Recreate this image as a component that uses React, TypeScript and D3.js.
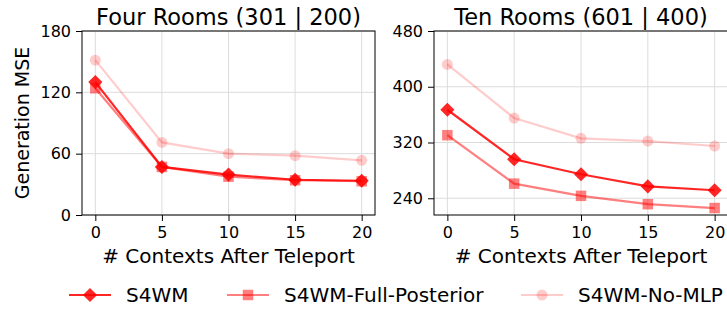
import React, { useRef, useEffect } from 'react'
import * as d3 from 'd3'

const contexts = [0, 5, 10, 15, 20]

// Four Rooms (301 | 200)
const fourS4wm = [130, 47, 39.5, 34.5, 33.5]
const fourFull = [124, 47, 37.5, 34, 33]
const fourNoMlp = [151.5, 71, 60, 58, 53.5]

// Ten Rooms (601 | 400)
const tenS4wm = [367, 296, 274.5, 257, 251.5]
const tenFull = [330.5, 261, 243.5, 231.5, 226]
const tenNoMlp = [432, 355, 326, 322, 315]

const fourTicks = [0, 60, 120, 180]
const tenTicks = [240, 320, 400, 480]

const seriesNames = ['S4WM', 'S4WM-Full-Posterior', 'S4WM-No-MLP']
const seriesAlpha = [0.85, 0.5, 0.2]
const seriesMarker = ['diamond', 'square', 'circle']

const panels = [
  { title: 'Four Rooms (301 | 200)', data: [fourS4wm, fourFull, fourNoMlp], yDomain: [0, 180], ticks: fourTicks, left: 82, right: 375 },
  { title: 'Ten Rooms (601 | 400)', data: [tenS4wm, tenFull, tenNoMlp], yDomain: [216, 480], ticks: tenTicks, left: 434, right: 728 }
]

const FONT = 'DejaVu Sans, sans-serif'

function drawMarker(g: any, kind: string, x: number, y: number, alpha: number) {
  if (kind === 'diamond') {
    g.append('path')
      .attr('d', d3.symbol(d3.symbolSquare, 100)())
      .attr('transform', `translate(${x},${y}) rotate(45)`)
      .attr('fill', 'red').attr('fill-opacity', alpha)
  } else if (kind === 'square') {
    g.append('path')
      .attr('d', d3.symbol(d3.symbolSquare, 110)())
      .attr('transform', `translate(${x},${y})`)
      .attr('fill', 'red').attr('fill-opacity', alpha)
  } else {
    g.append('circle')
      .attr('cx', x).attr('cy', y).attr('r', 5.5)
      .attr('fill', 'red').attr('fill-opacity', alpha)
  }
}

export default function App() {
  const svgRef = useRef<SVGSVGElement>(null)

  useEffect(() => {
    if (!svgRef.current) return
    const svg = d3.select(svgRef.current)
    svg.selectAll('*').remove()

    const top = 31
    const bottom = 215

    panels.forEach((p, pi) => {
      const x = d3.scaleLinear().domain([-1, 21]).range([p.left, p.right])
      const y = d3.scaleLinear().domain(p.yDomain).range([bottom, top])
      const g = svg.append('g')

      // grid
      contexts.forEach(c => {
        g.append('line').attr('x1', x(c)).attr('x2', x(c)).attr('y1', top).attr('y2', bottom)
          .attr('stroke', '#dcdcdc').attr('stroke-width', 1)
      })
      p.ticks.forEach(t => {
        g.append('line').attr('x1', p.left).attr('x2', p.right).attr('y1', y(t)).attr('y2', y(t))
          .attr('stroke', '#dcdcdc').attr('stroke-width', 1)
      })

      // series, drawn back to front
      const line = d3.line<number>().x((_, i) => x(contexts[i])).y(d => y(d))
      ;[2, 1, 0].forEach(si => {
        const vals = p.data[si]
        g.append('path').datum(vals).attr('d', line)
          .attr('fill', 'none').attr('stroke', 'red').attr('stroke-opacity', seriesAlpha[si])
          .attr('stroke-width', 2.2)
        vals.forEach((v, i) => drawMarker(g, seriesMarker[si], x(contexts[i]), y(v), seriesAlpha[si]))
      })

      // axes
      const xAxis = g.append('g').attr('transform', `translate(0,${bottom})`)
        .call(d3.axisBottom(x).tickValues(contexts).tickSize(6).tickPadding(6).tickSizeOuter(0))
      const yAxis = g.append('g').attr('transform', `translate(${p.left},0)`)
        .call(d3.axisLeft(y).tickValues(p.ticks).tickSize(6).tickPadding(5).tickSizeOuter(0))
      ;[xAxis, yAxis].forEach(a => {
        a.select('.domain').remove()
        a.selectAll('text').attr('font-size', 16).attr('font-family', FONT).attr('fill', '#000')
        a.selectAll('line').attr('stroke', '#000').attr('stroke-width', 1)
      })

      // frame
      g.append('rect').attr('x', p.left).attr('y', top).attr('width', p.right - p.left).attr('height', bottom - top)
        .attr('fill', 'none').attr('stroke', '#000').attr('stroke-width', 1)

      const cx = (p.left + p.right) / 2
      g.append('text').attr('x', cx).attr('y', 25).attr('text-anchor', 'middle')
        .attr('font-size', 22.5).attr('font-family', FONT).text(p.title)
      g.append('text').attr('x', cx).attr('y', 263).attr('text-anchor', 'middle')
        .attr('font-size', 20).attr('font-family', FONT).text('# Contexts After Teleport')

      if (pi === 0) {
        g.append('text').attr('transform', `translate(29,${(top + bottom) / 2}) rotate(-90)`)
          .attr('text-anchor', 'middle').attr('font-size', 19).attr('font-family', FONT).text('Generation MSE')
      }
    })

    // legend
    const legendX = [69, 227, 521]
    const ly = 295
    seriesNames.forEach((name, i) => {
      const lg = svg.append('g')
      lg.append('line').attr('x1', legendX[i]).attr('x2', legendX[i] + 42).attr('y1', ly).attr('y2', ly)
        .attr('stroke', 'red').attr('stroke-opacity', seriesAlpha[i]).attr('stroke-width', 2.2)
      drawMarker(lg, seriesMarker[i], legendX[i] + 21, ly, seriesAlpha[i])
      lg.append('text').attr('x', legendX[i] + 57).attr('y', ly + 7)
        .attr('font-size', 20).attr('font-family', FONT).text(name)
    })
  }, [])

  return (
    <svg ref={svgRef} width={727} height={313}
      style={{ position: 'absolute', left: 0, top: 0, background: '#fff' }} />
  )
}
